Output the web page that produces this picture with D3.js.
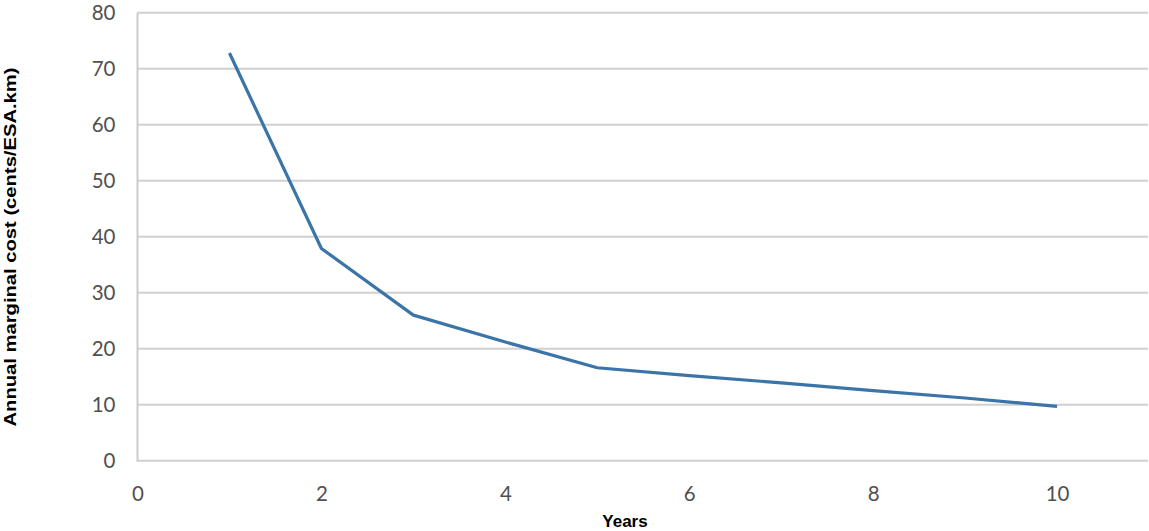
<!DOCTYPE html>
<html>
<head>
<meta charset="utf-8">
<script src="https://cdn.jsdelivr.net/npm/d3@7"></script>
<style>
  html, body { margin: 0; padding: 0; background: #ffffff; }
  svg { display: block; }
</style>
</head>
<body>
<svg id="chart" width="1149" height="531"></svg>
<script>
// ---- data ----
const years = [1, 2, 3, 4, 5, 6, 7, 8, 9, 10];
const marginalCost = [72.8, 37.9, 26.0, 21.2, 16.6, 15.2, 13.9, 12.5, 11.2, 9.7];
const xTicks = [0, 2, 4, 6, 8, 10];
const yTicks = [0, 10, 20, 30, 40, 50, 60, 70, 80];
const xTitle = "Years";
const yTitle = "Annual marginal cost (cents/ESA.km)";

// ---- layout ----
const svg = d3.select("#chart");
const plotLeft = 137.5, plotRight = 1149, plotTop = 12.7, plotBottom = 460.7;

const x = d3.scaleLinear().domain([0, 11]).range([plotLeft, plotRight]);
const y = d3.scaleLinear().domain([0, 80]).range([plotBottom, plotTop]);

// gridlines
svg.append("g")
  .selectAll("line")
  .data(yTicks)
  .join("line")
  .attr("x1", plotLeft)
  .attr("x2", plotRight - 1)
  .attr("y1", d => y(d))
  .attr("y2", d => y(d))
  .attr("stroke", "#d0d0d0")
  .attr("stroke-width", 2);

// y axis line
svg.append("line")
  .attr("x1", plotLeft).attr("x2", plotLeft)
  .attr("y1", plotTop).attr("y2", plotBottom + 1)
  .attr("stroke", "#cccccc")
  .attr("stroke-width", 2);

// y axis labels
const yAxis = d3.axisLeft(y).tickValues(yTicks).tickSize(0).tickPadding(22);
const gy = svg.append("g").attr("transform", `translate(${plotLeft},0)`).call(yAxis);
gy.select(".domain").remove();
gy.selectAll("text")
  .attr("font-family", "Lato, 'Open Sans', sans-serif")
  .attr("font-size", 20.5)
  .attr("fill", "#505050");

// x axis labels
const xAxis = d3.axisBottom(x).tickValues(xTicks).tickSize(0).tickPadding(26);
const gx = svg.append("g").attr("transform", `translate(0,${plotBottom})`).call(xAxis);
gx.select(".domain").remove();
gx.selectAll("text")
  .attr("font-family", "Lato, 'Open Sans', sans-serif")
  .attr("font-size", 20.5)
  .attr("fill", "#505050");

// line
const line = d3.line()
  .x((d, i) => x(years[i]))
  .y(d => y(d));
svg.append("path")
  .datum(marginalCost)
  .attr("d", line)
  .attr("fill", "none")
  .attr("stroke", "#3b74a6")
  .attr("stroke-width", 3.2)
  .attr("stroke-linejoin", "round");

// axis titles
svg.append("text")
  .attr("x", 625)
  .attr("y", 527)
  .attr("text-anchor", "middle")
  .attr("font-family", "'Liberation Sans', Arial, sans-serif")
  .attr("font-weight", "bold")
  .attr("font-size", 17)
  .attr("fill", "#000")
  .text(xTitle);

svg.append("text")
  .attr("transform", "translate(16,247) rotate(-90)")
  .attr("text-anchor", "middle")
  .attr("font-family", "'Liberation Sans', Arial, sans-serif")
  .attr("font-weight", "bold")
  .attr("font-size", 16)
  .attr("textLength", 359)
  .attr("lengthAdjust", "spacingAndGlyphs")
  .attr("fill", "#000")
  .text(yTitle);
</script>
</body>
</html>
